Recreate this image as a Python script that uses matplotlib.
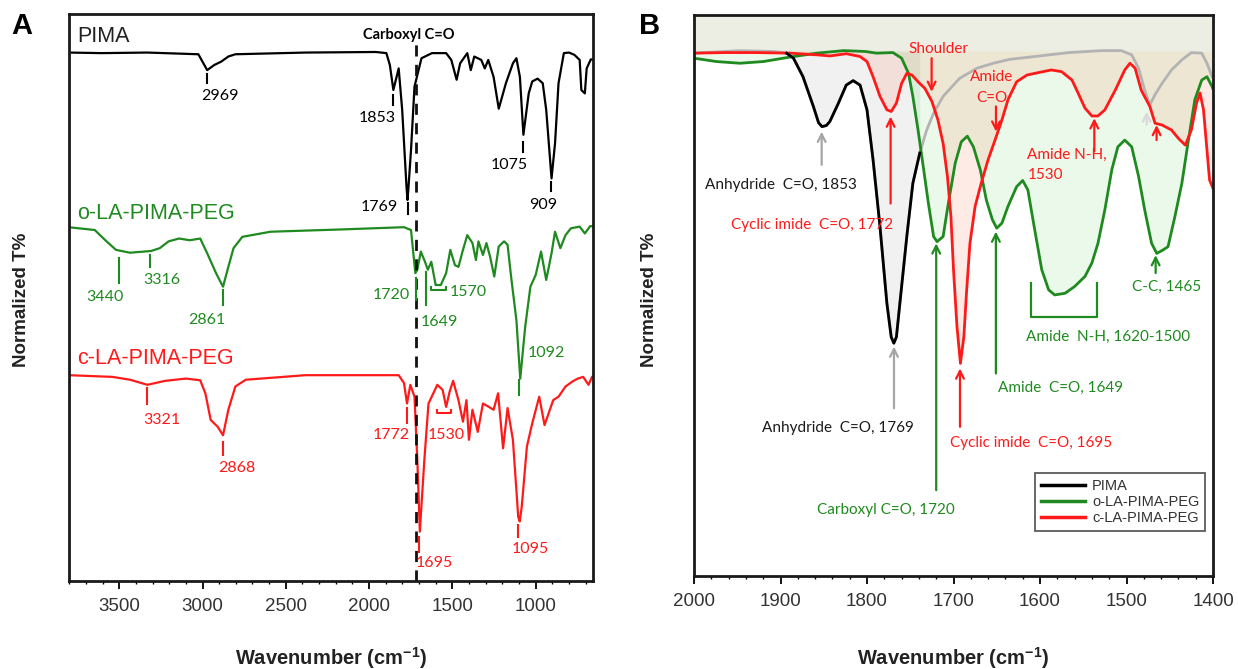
import matplotlib
matplotlib.use('Agg')
import matplotlib.pyplot as plt
from matplotlib.ticker import MultipleLocator
from matplotlib.lines import Line2D

plt.rcParams['font.family'] = ['Liberation Sans', 'DejaVu Sans']
plt.rcParams['mathtext.fontset'] = 'custom'
plt.rcParams['mathtext.rm'] = 'Liberation Sans'
plt.rcParams['mathtext.bf'] = 'Liberation Sans:bold'

GREEN = '#1f8a1f'
RED = '#ff1a1a'
LBL = 'Lato'

# ---- Panel A: full FTIR range, traces stacked (wavenumber, normalized T%)
pima_a = [(3805, 93.2), (3605, 93.1), (3330, 93.2), (3025, 92.9), (2972, 90.1), (2930, 91.0),
          (2888, 91.6), (2845, 92.5), (2803, 92.9), (2381, 93.2), (1959, 93.3), (1896, 93.1),
          (1875, 91.0), (1854, 86.6), (1822, 90.4), (1801, 83.1), (1775, 69.5), (1769, 67.2),
          (1763, 69.5), (1748, 76.0), (1727, 87.2), (1685, 92.2), (1622, 93.1), (1537, 93.1),
          (1506, 91.9), (1474, 88.4), (1453, 91.3), (1410, 93.1), (1389, 90.1), (1368, 92.5),
          (1326, 91.9), (1305, 90.4), (1284, 91.9), (1252, 88.9), (1221, 83.3), (1178, 87.8),
          (1136, 91.3), (1115, 92.2), (1094, 88.9), (1073, 78.7), (1041, 86.0), (1020, 88.1),
          (988, 88.6), (957, 87.8), (936, 83.1), (904, 71.0), (883, 77.2), (862, 87.8),
          (830, 93.1), (799, 93.2), (767, 92.8), (735, 91.9), (725, 86.6), (704, 86.0),
          (693, 90.4), (668, 92.0), (644, 91.9)]
olapeg_a = [(3805, 62.4), (3647, 61.9), (3584, 60.1), (3520, 58.4), (3436, 57.9), (3309, 58.2),
            (3257, 58.7), (3204, 59.9), (3141, 60.4), (3077, 60.1), (3014, 60.4), (2972, 57.8),
            (2919, 54.3), (2877, 51.9), (2845, 55.4), (2814, 58.7), (2761, 60.7), (2592, 61.6),
            (2170, 62.0), (1790, 62.4), (1748, 61.9), (1722, 54.3), (1710, 54.9), (1689, 58.1),
            (1664, 56.3), (1647, 54.9), (1626, 56.3), (1600, 52.2), (1569, 52.2), (1537, 54.3),
            (1512, 58.4), (1484, 55.7), (1463, 55.4), (1436, 58.4), (1410, 61.0), (1379, 59.6),
            (1358, 56.6), (1343, 59.9), (1316, 57.5), (1295, 59.6), (1273, 57.2), (1248, 53.7),
            (1221, 59.0), (1189, 59.9), (1168, 59.3), (1147, 53.7), (1115, 46.0), (1092, 35.7),
            (1062, 44.9), (1031, 51.9), (999, 54.0), (967, 58.1), (936, 53.1), (904, 57.8),
            (883, 61.6), (851, 58.7), (820, 61.0), (788, 62.2), (735, 62.5), (704, 61.3),
            (672, 62.6), (644, 62.5)]
clapeg_a = [(3805, 36.3), (3542, 36.0), (3436, 35.5), (3331, 34.6), (3225, 35.3), (3099, 35.7),
            (3014, 35.4), (2983, 33.1), (2951, 28.4), (2909, 27.2), (2877, 25.7), (2845, 30.2),
            (2803, 34.3), (2740, 35.5), (2381, 36.3), (1959, 36.3), (1822, 36.3), (1790, 34.9),
            (1772, 31.3), (1752, 34.6), (1727, 32.5), (1710, 21.3), (1695, 8.7), (1668, 21.3),
            (1643, 31.3), (1590, 34.6), (1558, 33.7), (1537, 30.7), (1516, 33.4), (1495, 35.3),
            (1463, 31.9), (1436, 28.1), (1415, 31.9), (1400, 24.9), (1379, 30.2), (1347, 26.3),
            (1316, 31.3), (1280, 30.7), (1252, 30.2), (1225, 33.1), (1195, 23.4), (1168, 30.5),
            (1136, 24.9), (1104, 11.3), (1095, 10.5), (1083, 13.1), (1052, 23.7), (1020, 27.8),
            (978, 32.5), (946, 27.5), (894, 31.9), (862, 32.5), (820, 34.3), (778, 35.2),
            (746, 35.7), (714, 36.0), (682, 34.6), (661, 36.0), (644, 36.3)]

# ---- Panel B: carbonyl / amide region
pima_b = [(2000, 93.2), (1947, 93.65), (1908, 93.5), (1893, 93.2), (1885, 92.3), (1874, 89.0),
          (1862, 83.7), (1856, 80.8), (1852, 80.1), (1847, 80.3), (1843, 81.0), (1833, 84.3),
          (1824, 87.5), (1816, 88.3), (1808, 87.5), (1800, 83.1), (1793, 74.2), (1785, 62.3),
          (1777, 48.6), (1772, 42.6), (1769, 41.5), (1766, 42.6), (1762, 48.6), (1754, 60.5),
          (1747, 70.0), (1739, 75.4), (1731, 79.5), (1723, 82.5), (1712, 85.5), (1693, 88.7),
          (1673, 90.5), (1654, 91.4), (1635, 92.1), (1606, 92.6), (1567, 93.3), (1529, 93.65),
          (1506, 93.65), (1494, 92.9), (1486, 90.5), (1479, 86.6), (1473, 84.0), (1467, 85.8),
          (1459, 87.8), (1448, 90.2), (1436, 92.0), (1425, 93.3), (1413, 93.2), (1407, 91.4),
          (1401, 89.0)]
olapeg_b = [(2000, 92.3), (1974, 91.7), (1947, 91.4), (1920, 91.7), (1889, 92.5), (1858, 93.2),
            (1827, 93.65), (1802, 93.5), (1789, 93.2), (1770, 93.3), (1760, 92.3), (1752, 89.6),
            (1747, 85.5), (1741, 79.5), (1735, 73.0), (1729, 66.4), (1723, 60.5), (1719, 59.6),
            (1712, 60.5), (1706, 66.4), (1698, 73.6), (1691, 77.4), (1684, 78.4), (1677, 76.5),
            (1669, 72.4), (1662, 67.0), (1655, 63.5), (1650, 62.0), (1644, 62.9), (1637, 65.9),
            (1627, 69.4), (1620, 70.5), (1614, 68.8), (1607, 62.5), (1598, 54.6), (1590, 51.0),
            (1583, 50.1), (1571, 50.4), (1560, 51.6), (1548, 53.4), (1540, 55.8), (1533, 59.3),
            (1525, 65.3), (1517, 72.4), (1510, 76.5), (1502, 77.7), (1494, 76.5), (1486, 71.2),
            (1479, 65.3), (1471, 59.3), (1465, 57.5), (1458, 58.1), (1452, 58.7), (1444, 64.1),
            (1436, 70.0), (1429, 77.1), (1421, 84.9), (1413, 88.4), (1407, 89.0), (1401, 87.2),
            (1400, 86.8)]
clapeg_b = [(2000, 93.2), (1966, 93.3), (1928, 93.3), (1889, 93.2), (1858, 92.9), (1843, 92.7),
            (1824, 93.1), (1808, 92.6), (1800, 91.7), (1793, 89.0), (1785, 85.5), (1777, 83.1),
            (1772, 82.8), (1766, 84.3), (1760, 87.8), (1754, 89.6), (1748, 89.3), (1741, 88.1),
            (1733, 86.9), (1725, 84.6), (1718, 81.3), (1712, 77.1), (1707, 71.2), (1703, 64.1),
            (1700, 54.6), (1696, 44.5), (1692, 37.9), (1688, 42.7), (1685, 50.4), (1681, 59.3),
            (1675, 65.9), (1668, 70.0), (1660, 74.2), (1652, 77.7), (1644, 81.3), (1637, 84.9),
            (1627, 88.1), (1615, 89.3), (1606, 89.6), (1587, 90.2), (1575, 89.9), (1563, 88.4),
            (1556, 86.1), (1548, 83.4), (1540, 82.0), (1533, 82.0), (1525, 83.1), (1513, 86.6),
            (1502, 90.2), (1496, 91.4), (1490, 90.5), (1483, 86.6), (1473, 83.7), (1467, 80.7),
            (1459, 80.4), (1448, 79.5), (1440, 78.0), (1432, 76.8), (1425, 79.5), (1419, 84.3),
            (1415, 86.1), (1411, 83.1), (1407, 76.0), (1404, 70.6), (1400, 69.1)]

series_names = ['PIMA', 'o-LA-PIMA-PEG', 'c-LA-PIMA-PEG']


def xy(pts):
    return [p[0] for p in pts], [p[1] for p in pts]


fig = plt.figure(figsize=(12.38, 6.69), dpi=100)
W, H = 1238, 669
axA = fig.add_axes([69 / W, 1 - 581 / H, 524 / W, 567 / H])
axB = fig.add_axes([694 / W, 1 - 576 / H, 519 / W, 561 / H])

for ax in (axA, axB):
    for s in ax.spines.values():
        s.set_linewidth(2)
        s.set_color('#1a1a1a')
    ax.set_yticks([])
    ax.tick_params(axis='x', which='major', direction='out', length=6, width=1.3,
                   labelsize=13.5, labelcolor='#333333', pad=6)
    ax.tick_params(axis='x', which='minor', direction='out', length=2.5, width=1)
    ax.set_ylim(0, 100)

# ---------------- panel A
axA.set_xlim(3802, 655)
axA.set_xticks([3500, 3000, 2500, 2000, 1500, 1000])
axA.xaxis.set_minor_locator(MultipleLocator(100))

axA.plot(*xy(pima_a), color='black', lw=1.6)
axA.plot(*xy(olapeg_a), color=GREEN, lw=1.6)
axA.plot(*xy(clapeg_a), color=RED, lw=1.6)
axA.plot([1720, 1720], [0, 94.8], color='#111111', lw=2, dashes=(4, 3))
axA.text(1759, 96.3, 'Carboxyl C=O', fontsize=10.5, fontweight='bold', family=LBL,
         ha='center', va='center')

for name, y, c in zip(series_names, [96.1, 64.8, 39.3], ['#222222', GREEN, RED]):
    axA.text(3752, y, name, fontsize=15.5, color=c, ha='left', va='center')

# (label, tick x, tick top, tick bottom, text x, text y, colour)
peaks_a = [('2969', 2972, 89.4, 87.9, 2898, 85.6, 'black'),
           ('1853', 1858, 85.7, 83.9, 1949, 81.6, 'black'),
           ('1769', 1769, 66.6, 64.8, 1938, 66.0, 'black'),
           ('1075', 1075, 77.5, 75.7, 1157, 73.4, 'black'),
           ('909', 906, 70.4, 68.7, 957, 66.4, 'black'),
           ('3440', 3503, 56.9, 52.5, 3584, 50.1, GREEN),
           ('3316', 3314, 57.5, 55.4, 3246, 53.1, GREEN),
           ('2861', 2877, 51.3, 48.7, 2972, 46.0, GREEN),
           ('1720', 1716, 53.4, 49.6, 1864, 50.4, GREEN),
           ('1649', 1660, 54.5, 48.7, 1579, 45.7, GREEN),
           ('1092', 1098, 35.4, 32.8, 936, 40.2, GREEN),
           ('3321', 3331, 34.0, 31.3, 3242, 28.4, RED),
           ('2868', 2877, 24.6, 22.2, 2793, 19.9, RED),
           ('1772', 1773, 30.5, 27.8, 1864, 25.7, RED),
           ('1695', 1700, 7.8, 5.2, 1611, 3.1, RED),
           ('1095', 1104, 9.9, 7.8, 1031, 5.6, RED)]
for lab, x, y0, y1, tx, ty, c in peaks_a:
    axA.plot([x, x], [y0, y1], color=c, lw=1.5)
    axA.text(tx, ty, lab, color=c, fontsize=11.5, family=LBL, ha='center', va='center')

# brackets
axA.plot([1626, 1626, 1537, 1537], [51.9, 51.3, 51.3, 51.9], color=GREEN, lw=1.5)
axA.text(1516, 51.0, '1570', color=GREEN, fontsize=11.5, family=LBL, ha='left', va='center')
axA.plot([1590, 1590, 1505, 1505], [30.2, 29.6, 29.6, 30.2], color=RED, lw=1.5)
axA.text(1537, 25.7, '1530', color=RED, fontsize=11.5, family=LBL, ha='center', va='center')

# ---------------- panel B
axB.set_xlim(2000, 1400)
axB.set_xticks([2000, 1900, 1800, 1700, 1600, 1500, 1400])
axB.xaxis.set_minor_locator(MultipleLocator(20))

# pale band above the baselines, then tinted areas inside each band
BASE = 93.6
axB.axhspan(BASE, 100, color='#ecede3', lw=0, zorder=0)
seg = [(x, y) for x, y in pima_b if 1736 <= x <= 1895]
for pts, fc, a in [(seg, '#808080', 0.11), (olapeg_b, '#40d040', 0.11), (clapeg_b, '#ff5020', 0.11)]:
    x, y = xy(pts)
    axB.fill_between(x, y, BASE, where=[v < BASE for v in y], interpolate=True,
                     color=fc, alpha=a, lw=0)

xb, yb = xy(pima_b)
axB.plot(xb, yb, color='#b3b3b3', lw=2)
axB.plot(*xy(olapeg_b), color=GREEN, lw=2)
axB.plot(*xy(clapeg_b), color=RED, lw=2)
axB.plot(*xy(seg), color='black', lw=2)


def arrow(x, y_tail, y_head, c):
    axB.annotate('', xy=(x, y_head), xytext=(x, y_tail),
                 arrowprops=dict(arrowstyle='->', color=c, lw=1.6, mutation_scale=14,
                                 shrinkA=0, shrinkB=0))


def note(x, y, s, c, ha='left'):
    axB.text(x, y, s, color=c, fontsize=11, family=LBL, ha=ha, va='center')


GRAY = '#a6a6a6'
arrow(1852.4, 73.3, 79.2, GRAY)
note(1987, 69.7, 'Anhydride  C=O, 1853', '#1a1a1a')
arrow(1772.7, 66.4, 81.9, RED)
note(1957.4, 62.6, 'Cyclic imide  C=O, 1772', RED)
arrow(1725.3, 92.3, 86.3, RED)
note(1717.6, 93.9, 'Shoulder', RED, ha='center')
arrow(1650.9, 83.7, 79.2, RED)
note(1655.9, 89.0, 'Amide', RED, ha='center')
note(1655.9, 85.2, 'C=O', RED, ha='center')
arrow(1537.2, 75.7, 81.6, RED)
note(1614.7, 75.1, 'Amide N-H,', RED)
note(1614.7, 71.4, '1530', RED)
arrow(1465.2, 77.7, 80.4, RED)
arrow(1476.7, 80.4, 82.8, '#d9d9d9')
arrow(1720, 15.3, 59.3, GREEN)
note(1778, 11.8, 'Carboxyl C=O, 1720', GREEN, ha='center')
arrow(1651, 36.1, 61.4, GREEN)
note(1649, 33.5, 'Amide  C=O, 1649', GREEN)
axB.plot([1610.6, 1610.6, 1534.3, 1534.3], [52.2, 46.2, 46.2, 52.2], color=GREEN, lw=1.6)
note(1616.7, 42.7, 'Amide  N-H, 1620-1500', GREEN)
arrow(1466.3, 54.0, 57.2, GREEN)
note(1453.6, 51.6, 'C-C, 1465', GREEN, ha='center')
arrow(1768.8, 29.9, 40.9, GRAY)
note(1833.6, 26.3, 'Anhydride  C=O, 1769', '#1a1a1a', ha='center')
arrow(1692.5, 26.6, 37.0, RED)
note(1703.9, 23.7, 'Cyclic imide  C=O, 1695', RED)

handles = [Line2D([], [], color=c, lw=2.5) for c in ['black', GREEN, RED]]
leg = axB.legend(handles, series_names, loc='lower right', bbox_to_anchor=(0.985, 0.081),
                 fontsize=10.5, frameon=True, fancybox=False, edgecolor='#333333',
                 handlelength=3.0, labelspacing=0.12, borderpad=0.4, handletextpad=0.5,
                 borderaxespad=0)
leg.get_frame().set_linewidth(1.3)
for t in leg.get_texts():
    t.set_color('#333333')

# axis titles and panel letters
for cx in [(69 + 593) / 2 / W, (694 + 1213) / 2 / W]:
    fig.text(cx, 1 - 658 / H, r'Wavenumber (cm$^{\mathbf{-1}}$)', ha='center', va='center',
             fontsize=14.5, fontweight='bold', color='#222222')
for lx in [22 / W, 650 / W]:
    fig.text(lx, 1 - 300 / H, 'Normalized T%', rotation=90, ha='center', va='center',
             fontsize=13.5, fontweight='bold', color='#222222')
fig.text(22 / W, 1 - 26 / H, 'A', fontsize=21, fontweight='bold', ha='center', va='center')
fig.text(650 / W, 1 - 26 / H, 'B', fontsize=21, fontweight='bold', ha='center', va='center')

fig.savefig('out.png', dpi=100)
